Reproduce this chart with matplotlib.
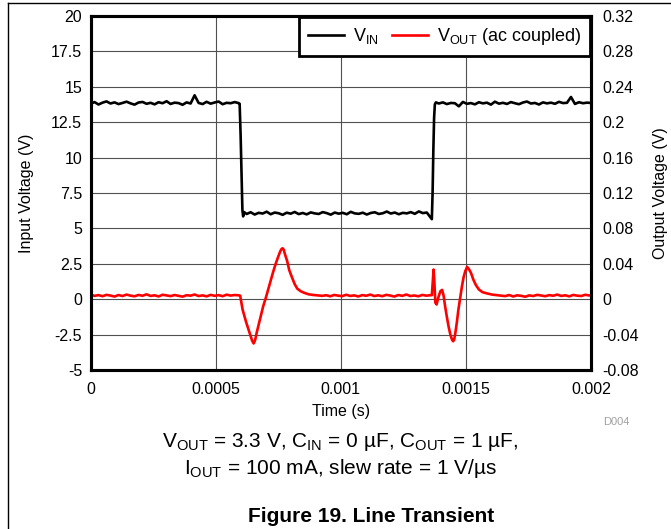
import matplotlib
matplotlib.use("Agg")
import matplotlib.pyplot as plt
from matplotlib.lines import Line2D
import numpy as np

plt.rcParams['font.family'] = ['Liberation Sans', 'DejaVu Sans']
plt.rcParams['mathtext.fontset'] = 'custom'
plt.rcParams['mathtext.rm'] = 'Liberation Sans'
plt.rcParams['mathtext.it'] = 'Liberation Sans:italic'
plt.rcParams['mathtext.bf'] = 'Liberation Sans:bold'

# ---------------- data (time in microseconds) ----------------
vin_t_us = [0, 16, 32, 48, 64, 80, 96, 112, 128, 144,
            160, 176, 192, 208, 224, 240, 256, 272, 288, 304,
            320, 336, 352, 368, 384, 400, 416, 432, 448, 464,
            480, 496, 512, 528, 544, 560, 576, 592,
            596, 600, 604, 607, 610, 614,
            624, 640, 656, 672, 688, 704, 720, 736, 752, 768,
            784, 800, 816, 832, 848, 864, 880, 896, 912, 928,
            944, 960, 976, 992, 1008, 1024, 1040, 1056, 1072, 1088,
            1104, 1120, 1136, 1152, 1168, 1184, 1200, 1216, 1232, 1248,
            1264, 1280, 1296, 1312, 1328, 1344, 1360,
            1364, 1367, 1370, 1373, 1376, 1380,
            1392, 1408, 1424, 1440, 1456, 1472, 1488, 1504, 1520, 1536,
            1552, 1568, 1584, 1600, 1616, 1632, 1648, 1664, 1680, 1696,
            1712, 1728, 1744, 1760, 1776, 1792, 1808, 1824, 1840, 1856,
            1872, 1888, 1904, 1920, 1936, 1952, 1968, 1984, 2000]
vin_v = [13.80, 13.92, 13.75, 13.88, 13.97, 13.82, 13.90, 13.78, 13.86, 13.95,
         13.83, 13.74, 13.89, 13.93, 13.80, 13.87, 13.76, 13.91, 13.84, 13.98,
         13.79, 13.88, 13.85, 13.73, 13.90, 13.82, 14.40, 13.86, 13.78, 13.94,
         13.81, 13.89, 13.96, 13.77, 13.87, 13.84, 13.92, 13.85,
         13.80, 11.50, 8.50, 6.30, 5.85, 6.15,
         6.02, 6.14, 5.98, 6.10, 6.05, 6.18, 6.00, 6.12, 6.07, 5.96,
         6.11, 6.04, 6.16, 6.01, 6.09, 5.99, 6.13, 6.06, 6.02, 6.15,
         6.08, 5.97, 6.12, 6.04, 6.10, 6.00, 6.17, 6.06, 6.03, 6.11,
         5.98, 6.09, 6.14, 6.02, 6.07, 6.19, 6.05, 6.12, 6.00, 6.10,
         6.06, 6.15, 6.03, 6.20, 6.08, 6.12, 5.75,
         5.65, 7.50, 10.50, 12.80, 13.75, 13.90,
         13.82, 13.90, 13.78, 13.86, 13.84, 13.62, 13.93, 13.80, 13.85, 13.76,
         13.91, 13.83, 13.88, 13.74, 13.95, 13.81, 13.87, 13.79, 13.92, 13.84,
         13.77, 13.89, 13.96, 13.82, 13.86, 13.75, 13.90, 13.83, 13.88, 13.80,
         13.94, 13.85, 13.87, 14.28, 13.79, 13.91, 13.84, 13.88, 13.86]

vout_t_us = [0, 16, 32, 48, 64, 80, 96, 112, 128, 144,
             160, 176, 192, 208, 224, 240, 256, 272, 288, 304,
             320, 336, 352, 368, 384, 400, 416, 432, 448, 464,
             480, 496, 512, 528, 544, 560, 576, 592,
             598, 604, 608, 614, 622, 630, 638, 646, 652, 658,
             664, 670, 680, 690, 700, 710, 720, 730, 740, 750,
             758, 764, 768, 772, 778, 786, 794, 806, 816, 826,
             840, 856, 872, 890, 910,
             926, 942, 958, 974, 990, 1006, 1022, 1038, 1054, 1070,
             1086, 1102, 1118, 1134, 1150, 1166, 1182, 1198, 1214, 1230,
             1246, 1262, 1278, 1294, 1310, 1326, 1342, 1358,
             1364, 1368, 1371, 1374, 1378, 1383, 1390, 1398, 1405, 1411,
             1417, 1424, 1431, 1438, 1445, 1449, 1453, 1458, 1464, 1470,
             1477, 1484, 1491, 1498, 1505, 1512, 1520, 1530, 1540, 1552,
             1566, 1585, 1605, 1625,
             1641, 1657, 1673, 1689, 1705, 1721, 1737, 1753, 1769, 1785,
             1801, 1817, 1833, 1849, 1865, 1881, 1897, 1913, 1929, 1945,
             1961, 1977, 1993, 2000]
vout_v = [0.0050, 0.0038, 0.0046, 0.0034, 0.0049, 0.0041, 0.0030, 0.0047, 0.0036, 0.0052,
          0.0040, 0.0033, 0.0048, 0.0039, 0.0055, 0.0037, 0.0044, 0.0031, 0.0050, 0.0042,
          0.0035, 0.0047, 0.0038, 0.0029, 0.0045, 0.0040, 0.0053, 0.0036, 0.0043, 0.0032,
          0.0049, 0.0038, 0.0046, 0.0034, 0.0051, 0.0041, 0.0047, 0.0044,
          0.0040, -0.006, -0.012, -0.018, -0.026, -0.033, -0.040, -0.047, -0.050, -0.046,
          -0.038, -0.031, -0.019, -0.008, 0.001, 0.011, 0.021, 0.031, 0.040, 0.048,
          0.054, 0.057, 0.0575, 0.056, 0.050, 0.043, 0.033, 0.024, 0.017, 0.012,
          0.009, 0.007, 0.0055, 0.0048, 0.0042,
          0.0038, 0.0045, 0.0033, 0.0048, 0.0040, 0.0035, 0.0050, 0.0037, 0.0043, 0.0031,
          0.0046, 0.0039, 0.0052, 0.0036, 0.0044, 0.0034, 0.0049, 0.0041, 0.0030, 0.0047,
          0.0038, 0.0053, 0.0036, 0.0042, 0.0033, 0.0048, 0.0040, 0.0045,
          0.0045, 0.022, 0.0335, 0.020, -0.004, -0.006, 0.002, 0.009, 0.0105, 0.004,
          -0.008, -0.020, -0.031, -0.040, -0.046, -0.0475, -0.046, -0.038, -0.026, -0.012,
          0.001, 0.014, 0.025, 0.032, 0.0365, 0.034, 0.030, 0.022, 0.016, 0.011,
          0.008, 0.0065, 0.0052, 0.0046,
          0.0040, 0.0035, 0.0047, 0.0031, 0.0044, 0.0038, 0.0028, 0.0043, 0.0036, 0.0049,
          0.0041, 0.0034, 0.0046, 0.0039, 0.0052, 0.0037, 0.0044, 0.0032, 0.0048, 0.0040,
          0.0036, 0.0050, 0.0042, 0.0045]

x_ticks = [0, 0.0005, 0.001, 0.0015, 0.002]
x_tick_labels = ["0", "0.0005", "0.001", "0.0015", "0.002"]
left_ticks = [-5, -2.5, 0, 2.5, 5, 7.5, 10, 12.5, 15, 17.5, 20]
left_tick_labels = ["-5", "-2.5", "0", "2.5", "5", "7.5", "10", "12.5", "15", "17.5", "20"]
right_ticks = [-0.08, -0.04, 0, 0.04, 0.08, 0.12, 0.16, 0.2, 0.24, 0.28, 0.32]
right_tick_labels = ["-0.08", "-0.04", "0", "0.04", "0.08", "0.12", "0.16", "0.2", "0.24", "0.28", "0.32"]

# ---------------- figure ----------------
W, H = 671, 529
fig = plt.figure(figsize=(W / 100, H / 100), dpi=100)
ax_l, ax_r, ax_t, ax_b = 90.5, 591, 16, 370
ax = fig.add_axes([ax_l / W, 1 - ax_b / H, (ax_r - ax_l) / W, (ax_b - ax_t) / H])
ax2 = ax.twinx()

t_in = np.array(vin_t_us) * 1e-6
t_out = np.array(vout_t_us) * 1e-6
ln_in, = ax.plot(t_in, vin_v, color='black', lw=1.9, label=r'V$_{\mathregular{IN}}$',
                 solid_joinstyle='round')
ln_out, = ax2.plot(t_out, vout_v, color='#ff0000', lw=1.9,
                   label=r'V$_{\mathregular{OUT}}$ (ac coupled)', solid_joinstyle='round')

ax.set_xlim(0, 0.002)
ax.set_ylim(-5, 20)
ax2.set_ylim(-0.08, 0.32)
ax.set_xticks(x_ticks)
ax.set_xticklabels(x_tick_labels)
ax.set_yticks(left_ticks)
ax.set_yticklabels(left_tick_labels)
ax2.set_yticks(right_ticks)
ax2.set_yticklabels(right_tick_labels)

ax.grid(True, color='#505050', lw=0.8)
ax.set_axisbelow(True)
for a in (ax, ax2):
    for s in a.spines.values():
        s.set_linewidth(2.2)
        s.set_color('black')
ax.tick_params(axis='both', length=0, labelsize=11.5, colors='black')
ax.tick_params(axis='x', pad=9)
ax.tick_params(axis='y', pad=6)
ax2.tick_params(axis='y', length=0, labelsize=11.5, pad=8)

ax.set_xlabel('Time (s)', fontsize=11.5, labelpad=5)
ax.set_ylabel('Input Voltage (V)', fontsize=11.5, labelpad=12)
ax2.set_ylabel('Output Voltage (V)', fontsize=11.5, labelpad=10)

leg = ax2.legend(handles=[ln_in, ln_out], loc='upper right', ncol=2, fontsize=13,
                 frameon=True, fancybox=False, framealpha=1, edgecolor='black',
                 borderaxespad=0.05, handlelength=2.0, handletextpad=0.5,
                 columnspacing=0.7, borderpad=0.5)
leg.get_frame().set_linewidth(2.0)

fig.text(603 / W, 1 - 422 / H, 'D004', fontsize=8, color='#a0a0a0', ha='left', va='center')
fig.text(340 / W, 1 - 442 / H,
         r'V$_{\mathregular{OUT}}$ = 3.3 V, C$_{\mathregular{IN}}$ = 0 µF, C$_{\mathregular{OUT}}$ = 1 µF,',
         fontsize=15, ha='center', va='center')
fig.text(340 / W, 1 - 468 / H,
         r'I$_{\mathregular{OUT}}$ = 100 mA, slew rate = 1 V/µs',
         fontsize=15, ha='center', va='center')
fig.text(371 / W, 1 - 516 / H, 'Figure 19. Line Transient', fontsize=15,
         fontweight='bold', ha='center', va='center')

# page frame
fig.add_artist(Line2D([8 / W, 8 / W], [0, 1 - 3 / H], transform=fig.transFigure,
                      color='black', lw=1.0))
fig.add_artist(Line2D([8 / W, 1], [1 - 3 / H, 1 - 3 / H], transform=fig.transFigure,
                      color='black', lw=1.0))

fig.savefig('out.png', dpi=100)
